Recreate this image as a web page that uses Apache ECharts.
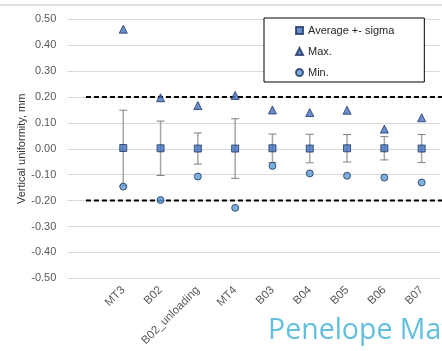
<!DOCTYPE html>
<html>
<head>
<meta charset="utf-8">
<script src="https://cdn.jsdelivr.net/npm/echarts@6/dist/echarts.min.js"></script>
<style>
  html, body { margin: 0; padding: 0; background: #fff; }
  #chart { width: 442px; height: 351px; }
</style>
</head>
<body>
<div id="chart"></div>
<script>
// Sample names along the x axis
const categories = ['MT3', 'B02', 'B02_unloading', 'MT4', 'B03', 'B04', 'B05', 'B06', 'B07'];
// Vertical uniformity statistics per sample, mm
const avgValues   = [0.003, 0.002, 0.001, 0.001, 0.002, 0.001, 0.002, 0.002, 0.001];
const sigmaValues = [0.146, 0.105, 0.060, 0.115, 0.055, 0.055, 0.053, 0.045, 0.054];
const maxValues   = [0.462, 0.197, 0.167, 0.206, 0.150, 0.140, 0.149, 0.076, 0.120];
const minValues   = [-0.146, -0.198, -0.107, -0.228, -0.066, -0.095, -0.104, -0.111, -0.130];
// Tolerance limits, mm
const limits = [0.2, -0.2];
// Y axis range and step
const yTicks = { min: -0.5, max: 0.5, step: 0.1 };

// An empty slot in front of the samples leaves room on the left
const axisCats = [''].concat(categories);
const idx = i => i + 1;

const chart = echarts.init(document.getElementById('chart'), null, { renderer: 'canvas' });

const markerBorder = { borderColor: '#1f3560', borderWidth: 1 };

const option = {
  animation: false,
  textStyle: { fontFamily: 'Liberation Sans' },
  grid: { left: 67.3, right: 1.7, top: 19.3, bottom: 72.7, containLabel: false },
  legend: {
    orient: 'vertical',
    left: 264, top: 18,
    padding: [7, 30, 4, 31],
    itemGap: 10, itemWidth: 7, itemHeight: 7,
    borderColor: '#000', borderWidth: 1, backgroundColor: '#fff',
    textStyle: { fontSize: 11, color: '#262626', fontFamily: 'Liberation Sans' },
    data: ['Average +- sigma', 'Max.', 'Min.']
  },
  xAxis: {
    type: 'category',
    data: axisCats,
    boundaryGap: true,
    axisLine: { show: false },
    axisTick: { show: false },
    axisLabel: { rotate: 45, interval: 0, margin: 10, fontSize: 11.5, color: '#595959' },
    splitLine: { show: false }
  },
  yAxis: {
    type: 'value',
    min: yTicks.min, max: yTicks.max, interval: yTicks.step,
    name: 'Vertical uniformity, mm',
    nameLocation: 'middle', nameGap: 40,
    nameMoveOverlap: false,
    nameTextStyle: { fontSize: 11, color: '#333' },
    axisLine: { show: false },
    axisTick: { show: false },
    axisLabel: { fontSize: 11, color: '#595959', margin: 11, formatter: v => v.toFixed(2) },
    splitLine: { lineStyle: { color: '#d9d9d9', width: 1 } }
  },
  graphic: [
    { type: 'rect', shape: { x: 0, y: 4, width: 442, height: 2 }, style: { fill: '#e0e0e0' }, silent: true },
    { type: 'text', left: 268, top: 316, style: { text: 'Penelope Matthews', fontSize: 28.5, fontFamily: 'Open Sans', fill: '#62bfe0' }, silent: true }
  ],
  series: [
    {
      name: 'Sigma bars',
      type: 'custom',
      z: 2,
      data: categories.map((c, i) => [idx(i), avgValues[i] - sigmaValues[i], avgValues[i] + sigmaValues[i]]),
      encode: { x: 0, y: [1, 2] },
      renderItem: function (params, api) {
        const x = api.value(0);
        const lo = api.coord([x, api.value(1)]);
        const hi = api.coord([x, api.value(2)]);
        const hw = 4;
        return {
          type: 'group',
          children: [
            { type: 'line', shape: { x1: lo[0], y1: lo[1], x2: hi[0], y2: hi[1] }, style: { stroke: '#a6a6a6', lineWidth: 1.5 } },
            { type: 'line', shape: { x1: hi[0] - hw, y1: hi[1], x2: hi[0] + hw, y2: hi[1] }, style: { stroke: '#7f7f7f', lineWidth: 1 } },
            { type: 'line', shape: { x1: lo[0] - hw, y1: lo[1], x2: lo[0] + hw, y2: lo[1] }, style: { stroke: '#7f7f7f', lineWidth: 1 } }
          ]
        };
      }
    },
    {
      // Tolerance limits: dashed from the first slot to the right edge
      name: 'Limits',
      type: 'custom',
      z: 1,
      silent: true,
      data: limits.map(l => [0, l]),
      encode: { x: 0, y: 1 },
      renderItem: function (params, api) {
        const start = api.coord([api.value(0), api.value(1)]);
        const cs = params.coordSys;
        return {
          type: 'line',
          shape: { x1: start[0], y1: start[1], x2: cs.x + cs.width + 2, y2: start[1] },
          style: { stroke: '#000', lineWidth: 2, lineDash: [5, 3] }
        };
      }
    },
    {
      name: 'Average +- sigma',
      type: 'scatter',
      z: 3,
      symbol: 'rect',
      symbolSize: 7,
      data: categories.map((c, i) => [idx(i), avgValues[i]]),
      itemStyle: Object.assign({ color: '#4472c4' }, markerBorder)
    },
    {
      name: 'Max.',
      type: 'scatter',
      z: 3,
      symbol: 'triangle',
      symbolSize: 8,
      data: categories.map((c, i) => [idx(i), maxValues[i]]),
      itemStyle: Object.assign({ color: '#4472c4' }, markerBorder)
    },
    {
      name: 'Min.',
      type: 'scatter',
      z: 3,
      symbol: 'circle',
      symbolSize: 7,
      data: categories.map((c, i) => [idx(i), minValues[i]]),
      itemStyle: Object.assign({ color: '#5b9bd5' }, markerBorder)
    }
  ]
};

chart.setOption(option);
</script>
</body>
</html>
